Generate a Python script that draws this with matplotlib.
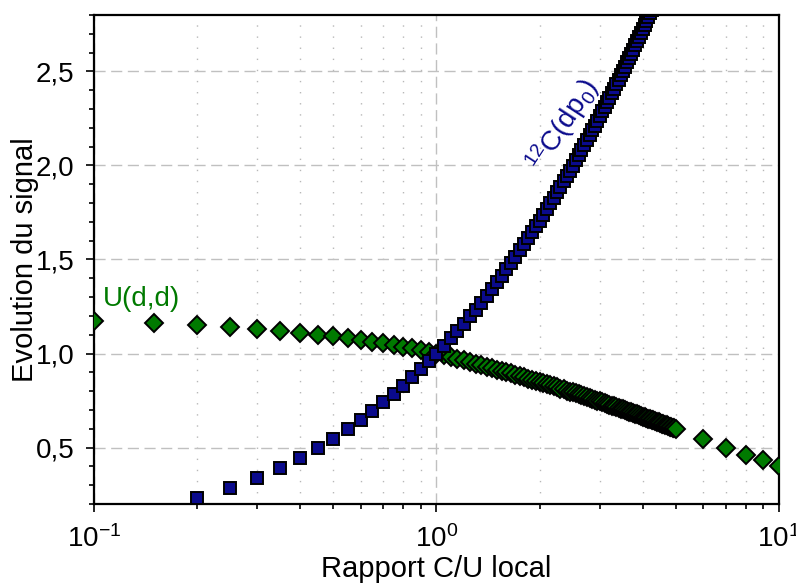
import matplotlib
matplotlib.use("Agg")
import matplotlib.pyplot as plt
from matplotlib.ticker import FuncFormatter, LogLocator, MultipleLocator
import numpy as np

plt.rcParams['font.family'] = ['Liberation Sans', 'DejaVu Sans']
plt.rcParams['mathtext.default'] = 'regular'
plt.rcParams['axes.unicode_minus'] = False

# rapport C/U local, pas de 0.05
x_carbone = np.round(np.arange(0.20, 4.501, 0.05), 2)
y_carbone = [
    0.230, 0.285, 0.339, 0.393, 0.446, 0.497, 0.548, 0.597, 0.646, 0.693,
    0.740, 0.785, 0.830, 0.874, 0.916, 0.959, 1.000,
    1.041, 1.081, 1.120, 1.159, 1.197, 1.234, 1.271, 1.307, 1.343, 1.378,
    1.413, 1.448, 1.482, 1.515, 1.548, 1.581, 1.613, 1.645, 1.676, 1.707,
    1.738, 1.768, 1.798, 1.828, 1.857, 1.886, 1.915, 1.943, 1.971, 1.999,
    2.027, 2.054, 2.081, 2.107, 2.134, 2.160, 2.186, 2.212, 2.237, 2.262,
    2.287, 2.312, 2.337, 2.361, 2.385, 2.409, 2.433, 2.456, 2.480, 2.503,
    2.526, 2.549, 2.571, 2.594, 2.616, 2.638, 2.660, 2.681, 2.703, 2.724,
    2.746, 2.767, 2.788, 2.808, 2.829, 2.850, 2.870, 2.890, 2.910, 2.930,
]

x_uranium = list(np.round(np.arange(0.10, 5.001, 0.05), 2)) + [6, 7, 8, 9, 10]
y_uranium = [
    1.173, 1.162, 1.151, 1.141, 1.131, 1.121, 1.111, 1.101, 1.091, 1.081,
    1.072, 1.063, 1.054, 1.045, 1.037, 1.028, 1.019, 1.010, 1.000,
    0.990, 0.981, 0.972, 0.963, 0.955, 0.946, 0.938, 0.930, 0.923, 0.915,
    0.908, 0.901, 0.894, 0.887, 0.880, 0.874, 0.867, 0.861, 0.855, 0.849,
    0.843, 0.837, 0.831, 0.825, 0.820, 0.814, 0.809, 0.803, 0.798, 0.793,
    0.788, 0.783, 0.778, 0.773, 0.768, 0.763, 0.759, 0.754, 0.750, 0.745,
    0.741, 0.736, 0.732, 0.728, 0.723, 0.719, 0.715, 0.711, 0.707, 0.703,
    0.699, 0.695, 0.691, 0.687, 0.683, 0.680, 0.676, 0.672, 0.669, 0.665,
    0.661, 0.658, 0.654, 0.651, 0.647, 0.644, 0.641, 0.637, 0.634, 0.631,
    0.627, 0.624, 0.621, 0.618, 0.614, 0.611, 0.608, 0.605, 0.602, 0.599,
    0.546, 0.500, 0.463, 0.436, 0.401,
]

vert = "#007a00"
bleu = "#0a0a8c"

fig = plt.figure(figsize=(7.96, 5.83), dpi=100)
ax = fig.add_axes([0.1181, 0.1355, 0.8605, 0.8388])

ax.plot(x_uranium, y_uranium, linestyle='none', marker='D', ms=9.6,
        mfc=vert, mec='black', mew=1.4, zorder=3)
ax.plot(x_carbone, y_carbone, linestyle='none', marker='s', ms=8.6,
        mfc=bleu, mec='black', mew=1.4, zorder=4)

ax.set_xscale('log')
ax.set_xlim(0.1, 10)
ax.set_ylim(0.2, 2.8)

ax.xaxis.set_major_locator(LogLocator(base=10, numticks=10))
ax.xaxis.set_minor_locator(LogLocator(base=10, subs=np.arange(2, 10), numticks=10))
ax.yaxis.set_major_locator(MultipleLocator(0.5))
ax.yaxis.set_minor_locator(MultipleLocator(0.1))
ax.yaxis.set_major_formatter(FuncFormatter(lambda v, p: f"{v:.1f}".replace('.', ',')))

ax.grid(True, which='major', color='#c0c0c0', linestyle=(0, (8, 4)), linewidth=1.0, zorder=0)
ax.grid(True, which='minor', axis='x', color='#b8b8b8', linestyle=(0, (1, 7)), linewidth=1.0, zorder=0)
ax.set_axisbelow(True)

for s in ax.spines.values():
    s.set_linewidth(1.6)

ax.tick_params(which='major', direction='out', length=6, width=1.2, labelsize=20)
ax.tick_params(which='minor', direction='out', length=3.8, width=1.2)
ax.tick_params(axis='x', which='major', pad=9)
ax.tick_params(axis='y', which='major', pad=8)

ax.set_xlabel("Rapport C/U local", fontsize=21, labelpad=2)
ax.set_ylabel("Evolution du signal", fontsize=21, labelpad=-2)

ax.text(0.013, 0.405, "U(d,d)", transform=ax.transAxes, color=vert,
        fontsize=20, ha='left', va='baseline')
ax.text(0.685, 0.775, r"$^{12}$C(dp$_0$)", transform=ax.transAxes, color=bleu,
        fontsize=20, ha='center', va='center', rotation=57, rotation_mode='anchor')

fig.savefig("out.png", dpi=100)
